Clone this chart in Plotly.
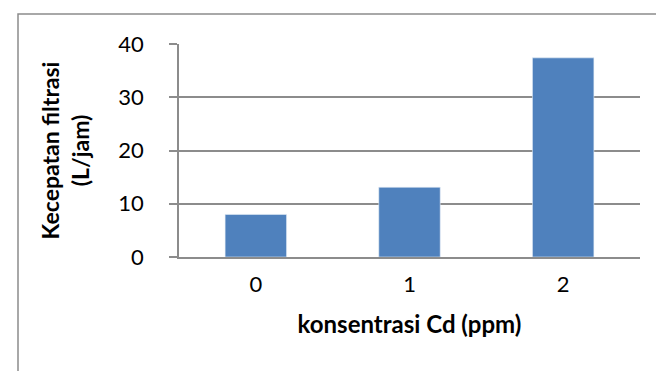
import plotly.graph_objects as go

categories = ["0", "1", "2"]
values = [8.0, 13.1, 37.4]
y_ticks = [0, 10, 20, 30, 40]

W, H = 664, 371
L, R, T, B = 171, 32, 36, 122
pw, ph = W - L - R, H - T - B
base = T + ph  # pixel y of the x axis

fig = go.Figure(go.Bar(
    x=categories, y=values,
    marker=dict(color="#4F81BD", line=dict(color="#E6EEF7", width=0.6)),
    width=0.4,
))

font_fam = "Lato, 'Open Sans', sans-serif"
grid = "#8C8C8C"

fig.update_layout(
    width=W, height=H,
    margin=dict(l=L, r=R, t=T, b=B, autoexpand=False),
    paper_bgcolor="white", plot_bgcolor="white",
    showlegend=False,
    font=dict(family=font_fam, color="black", size=22),
    xaxis=dict(
        type="category",
        showline=True, linecolor=grid, linewidth=1.5,
        showgrid=False, ticks="", ticklabelstandoff=7,
        tickfont=dict(size=22),
        title=dict(text="<b>konsentrasi Cd (ppm)</b>", font=dict(size=24), standoff=20),
        automargin=False,
    ),
    yaxis=dict(
        range=[0, 40], tickvals=y_ticks,
        showline=True, linecolor=grid, linewidth=1.5,
        showgrid=True, gridcolor=grid, gridwidth=1.5,
        ticks="outside", ticklen=8, tickcolor=grid, tickwidth=1.5,
        ticklabelstandoff=21,
        tickfont=dict(size=22),
        zeroline=False,
        title=dict(text="<b>Kecepatan filtrasi<br>(L/jam)</b>", font=dict(size=23), standoff=22),
        automargin=False,
    ),
    shapes=[dict(
        type="rect", xref="paper", yref="paper",
        x0=(10 - L) / pw, x1=(662 - L) / pw,
        y0=(base - 385) / ph, y1=(base - 6) / ph,
        line=dict(color="#8C8C8C", width=1.5), fillcolor="rgba(0,0,0,0)", layer="below",
    )],
)

fig.write_html("out.html")
